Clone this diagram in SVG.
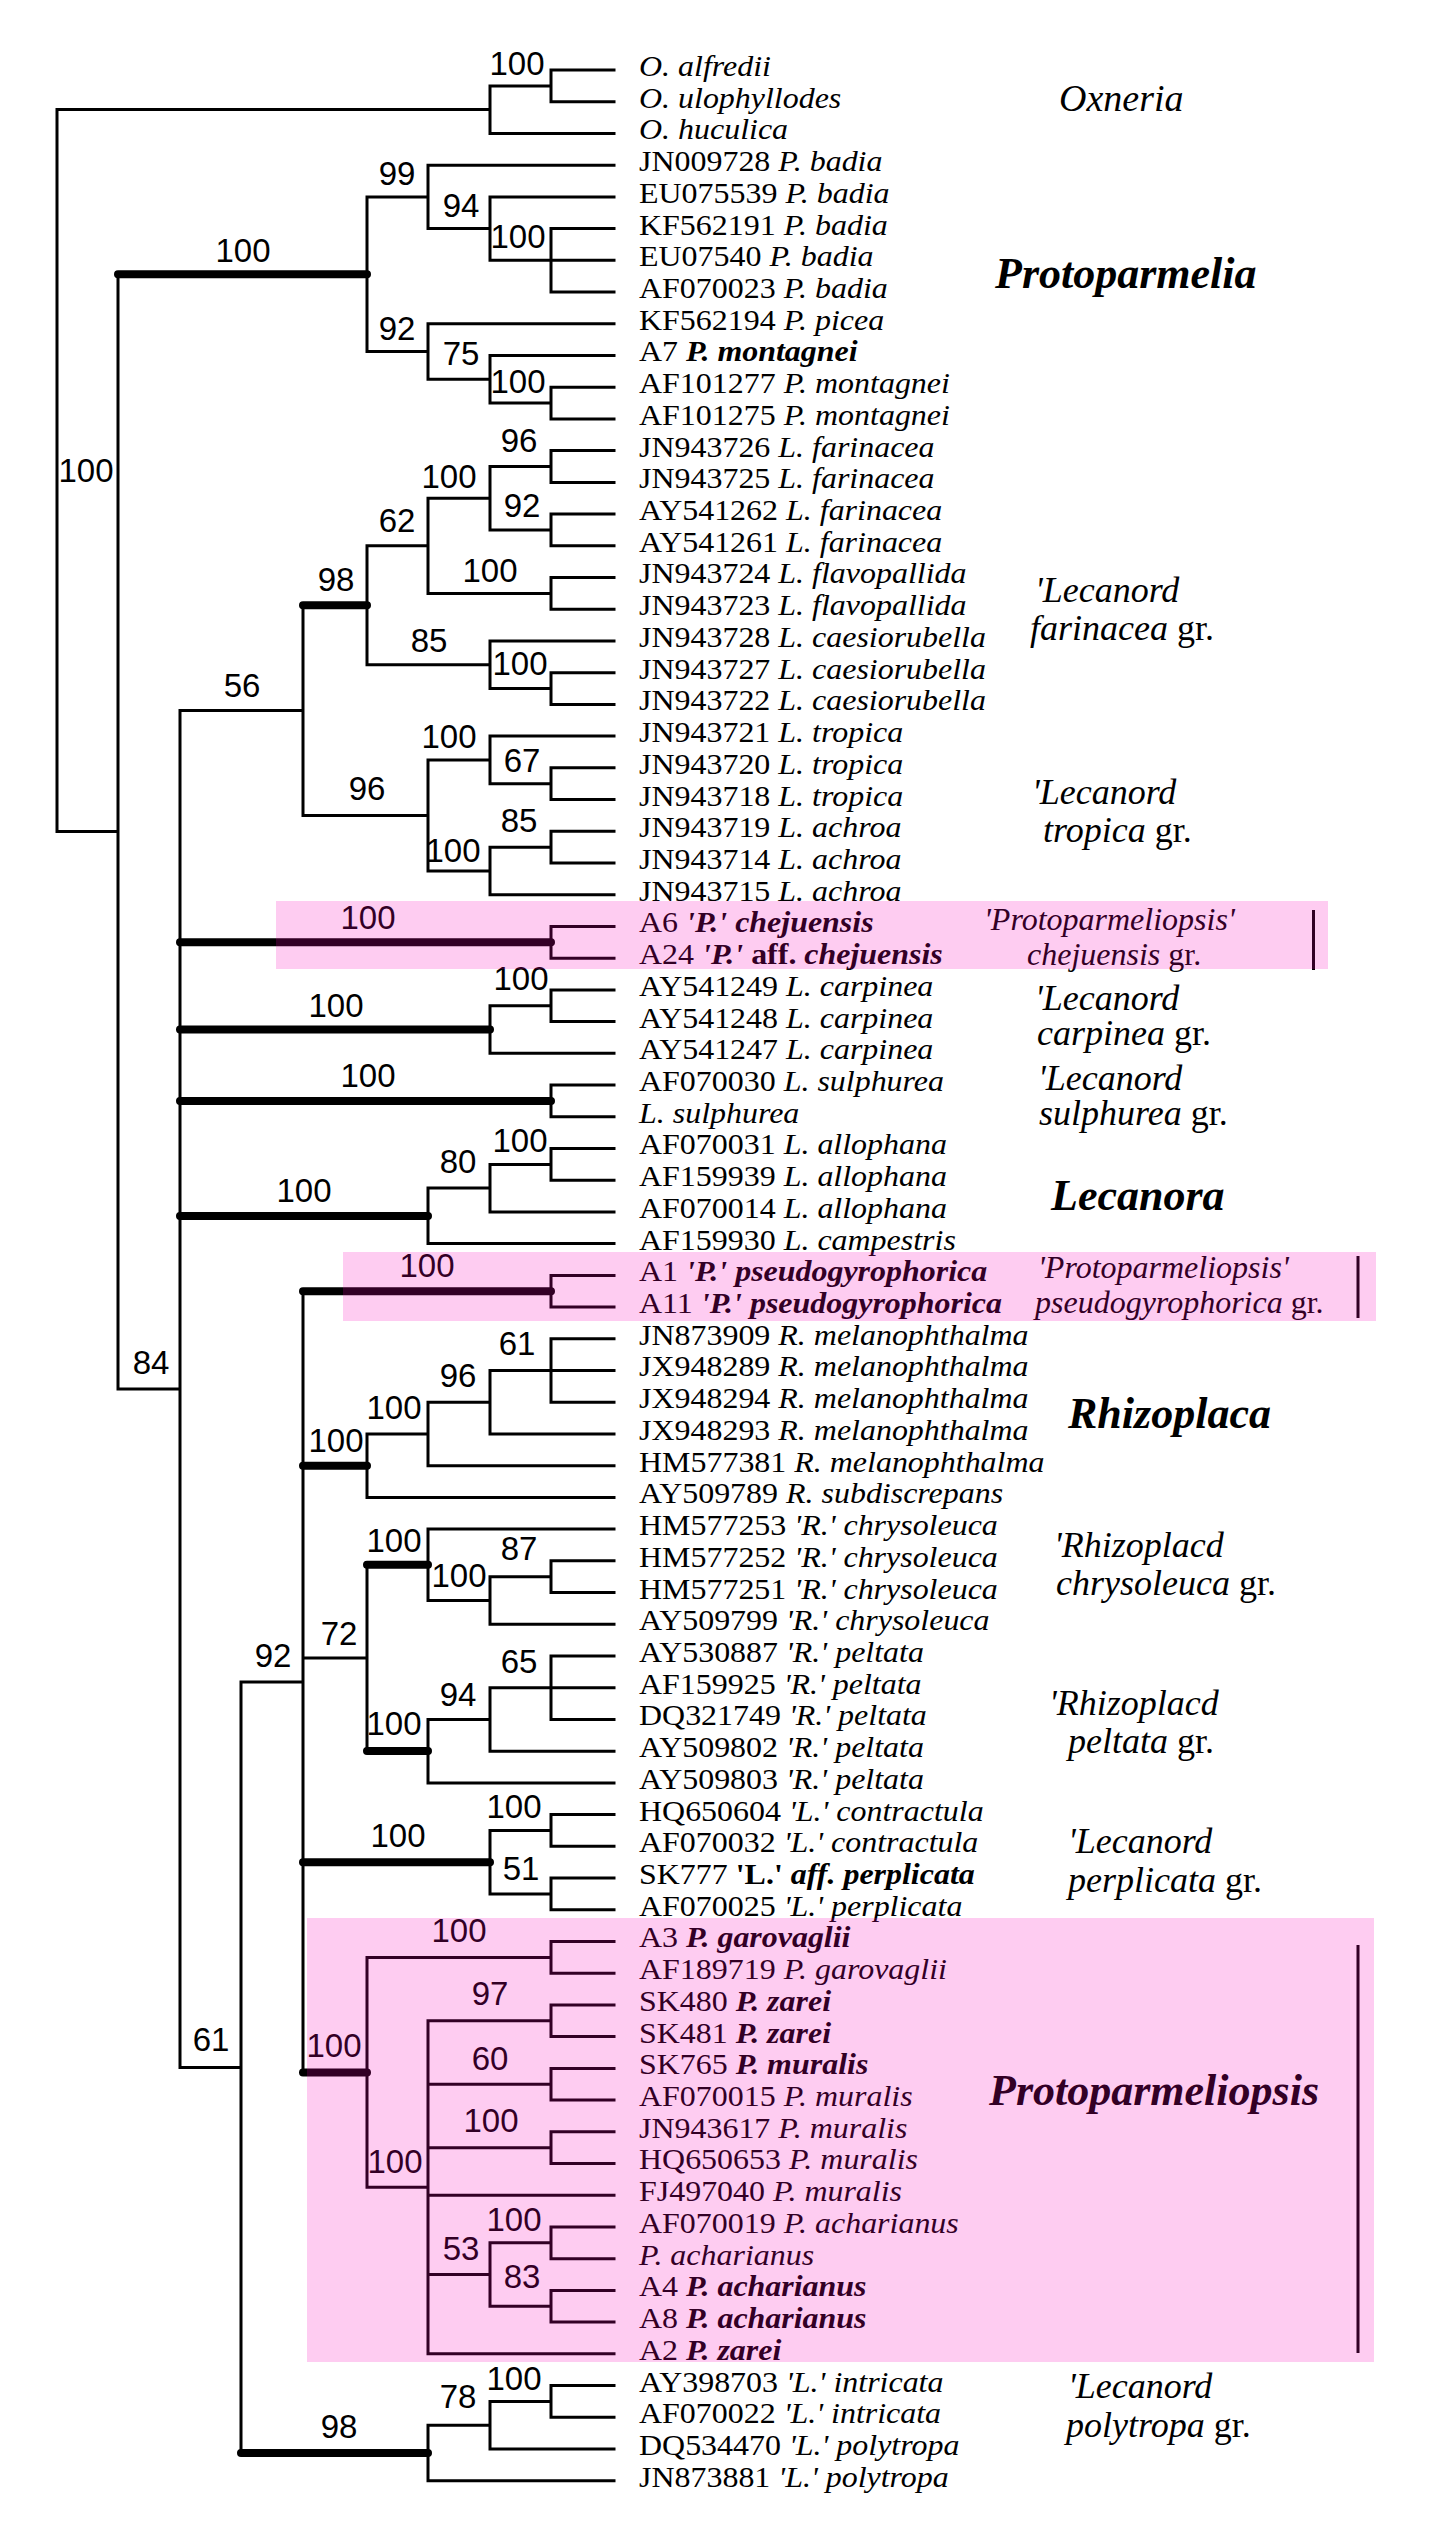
<svg xmlns="http://www.w3.org/2000/svg" width="1447" height="2538" viewBox="0 0 1447 2538">
<style>
.thin{fill:none;stroke:#000;stroke-width:3;stroke-linecap:square}
.thick{fill:none;stroke:#000;stroke-width:8;stroke-linecap:round}
.sup{font-family:"Liberation Sans",Arial,sans-serif;font-size:33px;fill:#000;text-anchor:middle}
.lf{font-family:"Liberation Serif","Times New Roman",serif;font-size:30px;fill:#000}
.i{font-style:italic}
.b{font-weight:bold}
.bi{font-weight:bold;font-style:italic}
.grp{font-family:"Liberation Serif","Times New Roman",serif;font-size:36px;fill:#000}
.grs{font-family:"Liberation Serif","Times New Roman",serif;font-size:32px;fill:#000}
.gen{font-family:"Liberation Serif","Times New Roman",serif;font-size:44px;font-weight:bold;font-style:italic;fill:#000}
.bar{stroke:#000;stroke-width:3}
.hl{fill:#FA00B9;fill-opacity:0.2}
</style>
<rect width="1447" height="2538" fill="#fff"/>
<g id="connectors">
<path class="thin" d="M57 109.6V831.6M57 109.6H490M57 831.6H118
M490 85.9V133.4M490 85.9H551M490 133.4H614M551 70V101.7M551 70H614M551 101.7H614
M118 274.2V1389M118 1389H180
M367 196.9V351.6M367 196.9H428M367 351.6H428
M428 165.2V228.6M428 165.2H614M428 228.6H490
M490 196.9V260.3M490 196.9H614M490 260.3H551
M551 228.6V292M551 228.6H614M551 260.3H614M551 292H614
M428 323.8V379.3M428 323.8H614M428 379.3H490
M490 355.5V403.1M490 355.5H614M490 403.1H551
M551 387.2V418.9M551 387.2H614M551 418.9H614
M180 710.4V2067.5M180 710.4H303M180 2067.5H241
M303 605.3V815.5M303 815.5H428
M367 545.8V664.8M367 545.8H428M367 664.8H490
M428 498.2V593.4M428 498.2H490M428 593.4H551
M490 466.5V530M490 466.5H551M490 530H551
M551 450.6V482.4M551 450.6H614M551 482.4H614
M551 514.1V545.8M551 514.1H614M551 545.8H614
M551 577.5V609.2M551 577.5H614M551 609.2H614
M490 641V688.6M490 641H614M490 688.6H551
M551 672.7V704.4M551 672.7H614M551 704.4H614
M428 759.9V871M428 759.9H490M428 871H490
M490 736.1V783.7M490 736.1H614M490 783.7H551
M551 767.8V799.6M551 767.8H614M551 799.6H614
M490 847.2V894.7M490 847.2H551M490 894.7H614
M551 831.3V863M551 831.3H614M551 863H614
M551 926.4V958.2M551 926.4H614M551 958.2H614
M490 1005.8V1053.3M490 1005.8H551M490 1053.3H614
M551 989.9V1021.6M551 989.9H614M551 1021.6H614
M551 1085V1116.8M551 1085H614M551 1116.8H614
M428 1188.1V1243.6M428 1188.1H490M428 1243.6H614
M490 1164.4V1211.9M490 1164.4H551M490 1211.9H614
M551 1148.5V1180.2M551 1148.5H614M551 1180.2H614
M241 1681.9V2453M241 1681.9H303
M303 1291.3V2072.4M303 1657.9H367
M551 1275.4V1307.1M551 1275.4H614M551 1307.1H614
M367 1434V1497.4M367 1434H428M367 1497.4H614
M428 1402.3V1465.7M428 1402.3H490M428 1465.7H614
M490 1370.5V1434M490 1370.5H551M490 1434H614
M551 1338.8V1402.2M551 1338.8H614M551 1370.5H614M551 1402.2H614
M367 1564.8V1751
M428 1529.1V1600.5M428 1529.1H614M428 1600.5H490
M490 1576.7V1624.3M490 1576.7H551M490 1624.3H614
M551 1560.8V1592.6M551 1560.8H614M551 1592.6H614
M428 1719.4V1782.9M428 1719.4H490M428 1782.9H614
M490 1687.7V1751.2M490 1687.7H551M490 1751.2H614
M551 1656V1719.4M551 1656H614M551 1687.7H614M551 1719.4H614
M490 1830.5V1893.9M490 1830.5H551M490 1893.9H551
M551 1814.6V1846.3M551 1814.6H614M551 1846.3H614
M551 1878V1909.8M551 1878H614M551 1909.8H614
M367 1957.4V2187.3M367 1957.4H551M367 2187.3H428
M551 1941.5V1973.2M551 1941.5H614M551 1973.2H614
M428 2020.8V2353.8M428 2020.8H551M428 2084.3H551M428 2147.7H551M428 2195.2H614M428 2274.5H490M428 2353.8H614
M551 2004.9V2036.6M551 2004.9H614M551 2036.6H614
M551 2068.4V2100.1M551 2068.4H614M551 2100.1H614
M551 2131.8V2163.5M551 2131.8H614M551 2163.5H614
M490 2242.8V2306.3M490 2242.8H551M490 2306.3H551
M551 2227V2258.7M551 2227H614M551 2258.7H614
M551 2290.4V2322.1M551 2290.4H614M551 2322.1H614
M428 2425.2V2480.7M428 2425.2H490M428 2480.7H614
M490 2401.5V2449M490 2401.5H551M490 2449H614
M551 2385.6V2417.3M551 2385.6H614M551 2417.3H614"/>
<path class="thick" d="M118 274.2H367M303 605.3H367M180 942.3H551M180 1029.5H490M180 1100.9H551M180 1215.9H428M303 1291.3H551M303 1465.7H367M367 1564.8H428M367 1751H428M303 1862.2H490M303 2072.4H367M241 2453H428"/>
</g>
<g id="support">
<text class="sup" x="517" y="75">100</text>
<text class="sup" x="243" y="262">100</text>
<text class="sup" x="397" y="185">99</text>
<text class="sup" x="461" y="217">94</text>
<text class="sup" x="518" y="248">100</text>
<text class="sup" x="397" y="340">92</text>
<text class="sup" x="461" y="365">75</text>
<text class="sup" x="518" y="393">100</text>
<text class="sup" x="86" y="482">100</text>
<text class="sup" x="519" y="452">96</text>
<text class="sup" x="449" y="488">100</text>
<text class="sup" x="522" y="517">92</text>
<text class="sup" x="397" y="532">62</text>
<text class="sup" x="490" y="582">100</text>
<text class="sup" x="336" y="591">98</text>
<text class="sup" x="429" y="652">85</text>
<text class="sup" x="520" y="675">100</text>
<text class="sup" x="242" y="697">56</text>
<text class="sup" x="449" y="748">100</text>
<text class="sup" x="522" y="772">67</text>
<text class="sup" x="367" y="800">96</text>
<text class="sup" x="519" y="832">85</text>
<text class="sup" x="453" y="862">100</text>
<text class="sup" x="368" y="929">100</text>
<text class="sup" x="521" y="990">100</text>
<text class="sup" x="336" y="1017">100</text>
<text class="sup" x="368" y="1087">100</text>
<text class="sup" x="520" y="1152">100</text>
<text class="sup" x="458" y="1173">80</text>
<text class="sup" x="304" y="1202">100</text>
<text class="sup" x="427" y="1277">100</text>
<text class="sup" x="517" y="1355">61</text>
<text class="sup" x="151" y="1374">84</text>
<text class="sup" x="458" y="1387">96</text>
<text class="sup" x="394" y="1419">100</text>
<text class="sup" x="336" y="1452">100</text>
<text class="sup" x="394" y="1552">100</text>
<text class="sup" x="519" y="1560">87</text>
<text class="sup" x="459" y="1587">100</text>
<text class="sup" x="339" y="1645">72</text>
<text class="sup" x="273" y="1667">92</text>
<text class="sup" x="519" y="1673">65</text>
<text class="sup" x="458" y="1706">94</text>
<text class="sup" x="394" y="1735">100</text>
<text class="sup" x="514" y="1818">100</text>
<text class="sup" x="398" y="1847">100</text>
<text class="sup" x="521" y="1880">51</text>
<text class="sup" x="459" y="1942">100</text>
<text class="sup" x="490" y="2005">97</text>
<text class="sup" x="211" y="2051">61</text>
<text class="sup" x="334" y="2057">100</text>
<text class="sup" x="490" y="2070">60</text>
<text class="sup" x="491" y="2132">100</text>
<text class="sup" x="395" y="2173">100</text>
<text class="sup" x="514" y="2231">100</text>
<text class="sup" x="461" y="2260">53</text>
<text class="sup" x="522" y="2288">83</text>
<text class="sup" x="514" y="2390">100</text>
<text class="sup" x="458" y="2408">78</text>
<text class="sup" x="339" y="2438">98</text>
</g>
<g id="leaves" transform="translate(639 0) scale(1.065 1)" xml:space="preserve">
<g id="leaf1"><text class="lf" y="76"><tspan class="i">O. alfredii</tspan></text></g>
<g id="leaf2"><text class="lf" y="107.7"><tspan class="i">O. ulophyllodes</tspan></text></g>
<g id="leaf3"><text class="lf" y="139.4"><tspan class="i">O. huculica</tspan></text></g>
<g id="leaf4"><text class="lf" y="171.2">JN009728 <tspan class="i">P. badia</tspan></text></g>
<g id="leaf5"><text class="lf" y="202.9">EU075539 <tspan class="i">P. badia</tspan></text></g>
<g id="leaf6"><text class="lf" y="234.6">KF562191 <tspan class="i">P. badia</tspan></text></g>
<g id="leaf7"><text class="lf" y="266.3">EU07540 <tspan class="i">P. badia</tspan></text></g>
<g id="leaf8"><text class="lf" y="298">AF070023 <tspan class="i">P. badia</tspan></text></g>
<g id="leaf9"><text class="lf" y="329.8">KF562194 <tspan class="i">P.  picea</tspan></text></g>
<g id="leaf10"><text class="lf" y="361.5">A7 <tspan class="bi">P. montagnei</tspan></text></g>
<g id="leaf11"><text class="lf" y="393.2">AF101277 <tspan class="i">P. montagnei</tspan></text></g>
<g id="leaf12"><text class="lf" y="424.9">AF101275 <tspan class="i">P. montagnei</tspan></text></g>
<g id="leaf13"><text class="lf" y="456.6">JN943726 <tspan class="i">L. farinacea</tspan></text></g>
<g id="leaf14"><text class="lf" y="488.4">JN943725 <tspan class="i">L. farinacea</tspan></text></g>
<g id="leaf15"><text class="lf" y="520.1">AY541262 <tspan class="i">L. farinacea</tspan></text></g>
<g id="leaf16"><text class="lf" y="551.8">AY541261 <tspan class="i">L. farinacea</tspan></text></g>
<g id="leaf17"><text class="lf" y="583.5">JN943724 <tspan class="i">L. flavopallida</tspan></text></g>
<g id="leaf18"><text class="lf" y="615.2">JN943723 <tspan class="i">L. flavopallida</tspan></text></g>
<g id="leaf19"><text class="lf" y="647">JN943728 <tspan class="i">L. caesiorubella</tspan></text></g>
<g id="leaf20"><text class="lf" y="678.7">JN943727 <tspan class="i">L. caesiorubella</tspan></text></g>
<g id="leaf21"><text class="lf" y="710.4">JN943722 <tspan class="i">L. caesiorubella</tspan></text></g>
<g id="leaf22"><text class="lf" y="742.1">JN943721 <tspan class="i">L. tropica</tspan></text></g>
<g id="leaf23"><text class="lf" y="773.8">JN943720 <tspan class="i">L. tropica</tspan></text></g>
<g id="leaf24"><text class="lf" y="805.6">JN943718 <tspan class="i">L. tropica</tspan></text></g>
<g id="leaf25"><text class="lf" y="837.3">JN943719 <tspan class="i">L. achroa</tspan></text></g>
<g id="leaf26"><text class="lf" y="869">JN943714 <tspan class="i">L. achroa</tspan></text></g>
<g id="leaf27"><text class="lf" y="900.7">JN943715 <tspan class="i">L. achroa</tspan></text></g>
<g id="leaf28"><text class="lf" y="932.4">A6 <tspan class="bi">'P.' chejuensis</tspan></text></g>
<g id="leaf29"><text class="lf" y="964.2">A24 <tspan class="bi">'P.'</tspan> <tspan class="b">aff.</tspan> <tspan class="bi">chejuensis</tspan></text></g>
<g id="leaf30"><text class="lf" y="995.9">AY541249 <tspan class="i">L. carpinea</tspan></text></g>
<g id="leaf31"><text class="lf" y="1027.6">AY541248 <tspan class="i">L. carpinea</tspan></text></g>
<g id="leaf32"><text class="lf" y="1059.3">AY541247 <tspan class="i">L. carpinea</tspan></text></g>
<g id="leaf33"><text class="lf" y="1091">AF070030 <tspan class="i">L. sulphurea</tspan></text></g>
<g id="leaf34"><text class="lf" y="1122.8"><tspan class="i">L. sulphurea</tspan></text></g>
<g id="leaf35"><text class="lf" y="1154.5">AF070031 <tspan class="i">L. allophana</tspan></text></g>
<g id="leaf36"><text class="lf" y="1186.2">AF159939 <tspan class="i">L. allophana</tspan></text></g>
<g id="leaf37"><text class="lf" y="1217.9">AF070014 <tspan class="i">L. allophana</tspan></text></g>
<g id="leaf38"><text class="lf" y="1249.6">AF159930 <tspan class="i">L. campestris</tspan></text></g>
<g id="leaf39"><text class="lf" y="1281.4">A1 <tspan class="bi">'P.' pseudogyrophorica</tspan></text></g>
<g id="leaf40"><text class="lf" y="1313.1">A11 <tspan class="bi">'P.' pseudogyrophorica</tspan></text></g>
<g id="leaf41"><text class="lf" y="1344.8">JN873909 <tspan class="i">R. melanophthalma</tspan></text></g>
<g id="leaf42"><text class="lf" y="1376.5">JX948289 <tspan class="i">R. melanophthalma</tspan></text></g>
<g id="leaf43"><text class="lf" y="1408.2">JX948294 <tspan class="i">R. melanophthalma</tspan></text></g>
<g id="leaf44"><text class="lf" y="1440">JX948293 <tspan class="i">R. melanophthalma</tspan></text></g>
<g id="leaf45"><text class="lf" y="1471.7">HM577381 <tspan class="i">R. melanophthalma</tspan></text></g>
<g id="leaf46"><text class="lf" y="1503.4">AY509789 <tspan class="i">R. subdiscrepans</tspan></text></g>
<g id="leaf47"><text class="lf" y="1535.1">HM577253  <tspan class="i">'R.' chrysoleuca</tspan></text></g>
<g id="leaf48"><text class="lf" y="1566.8">HM577252  <tspan class="i">'R.' chrysoleuca</tspan></text></g>
<g id="leaf49"><text class="lf" y="1598.6">HM577251  <tspan class="i">'R.' chrysoleuca</tspan></text></g>
<g id="leaf50"><text class="lf" y="1630.3">AY509799  <tspan class="i">'R.' chrysoleuca</tspan></text></g>
<g id="leaf51"><text class="lf" y="1662">AY530887   <tspan class="i">'R.' peltata</tspan></text></g>
<g id="leaf52"><text class="lf" y="1693.7">AF159925  <tspan class="i">'R.' peltata</tspan></text></g>
<g id="leaf53"><text class="lf" y="1725.4">DQ321749  <tspan class="i">'R.' peltata</tspan></text></g>
<g id="leaf54"><text class="lf" y="1757.2">AY509802  <tspan class="i">'R.' peltata</tspan></text></g>
<g id="leaf55"><text class="lf" y="1788.9">AY509803  <tspan class="i">'R.' peltata</tspan></text></g>
<g id="leaf56"><text class="lf" y="1820.6">HQ650604 <tspan class="i">'L.' contractula</tspan></text></g>
<g id="leaf57"><text class="lf" y="1852.3">AF070032  <tspan class="i">'L.' contractula</tspan></text></g>
<g id="leaf58"><text class="lf" y="1884">SK777 <tspan class="b">'L.'</tspan>  <tspan class="bi">aff. perplicata</tspan></text></g>
<g id="leaf59"><text class="lf" y="1915.8">AF070025 <tspan class="i">'L.'  perplicata</tspan></text></g>
<g id="leaf60"><text class="lf" y="1947.5">A3 <tspan class="bi">P. garovaglii</tspan></text></g>
<g id="leaf61"><text class="lf" y="1979.2">AF189719 <tspan class="i">P. garovaglii</tspan></text></g>
<g id="leaf62"><text class="lf" y="2010.9">SK480 <tspan class="bi">P. zarei</tspan></text></g>
<g id="leaf63"><text class="lf" y="2042.6">SK481 <tspan class="bi">P. zarei</tspan></text></g>
<g id="leaf64"><text class="lf" y="2074.4">SK765 <tspan class="bi">P. muralis</tspan></text></g>
<g id="leaf65"><text class="lf" y="2106.1">AF070015 <tspan class="i">P. muralis</tspan></text></g>
<g id="leaf66"><text class="lf" y="2137.8">JN943617 <tspan class="i">P. muralis</tspan></text></g>
<g id="leaf67"><text class="lf" y="2169.5">HQ650653 <tspan class="i">P. muralis</tspan></text></g>
<g id="leaf68"><text class="lf" y="2201.2">FJ497040 <tspan class="i">P. muralis</tspan></text></g>
<g id="leaf69"><text class="lf" y="2233">AF070019 <tspan class="i">P. acharianus</tspan></text></g>
<g id="leaf70"><text class="lf" y="2264.7"><tspan class="i">P. acharianus</tspan></text></g>
<g id="leaf71"><text class="lf" y="2296.4">A4 <tspan class="bi">P. acharianus</tspan></text></g>
<g id="leaf72"><text class="lf" y="2328.1">A8 <tspan class="bi">P. acharianus</tspan></text></g>
<g id="leaf73"><text class="lf" y="2359.8">A2 <tspan class="bi">P. zarei</tspan></text></g>
<g id="leaf74"><text class="lf" y="2391.6">AY398703  <tspan class="i">'L.' intricata</tspan></text></g>
<g id="leaf75"><text class="lf" y="2423.3">AF070022  <tspan class="i">'L.' intricata</tspan></text></g>
<g id="leaf76"><text class="lf" y="2455">DQ534470  <tspan class="i">'L.' polytropa</tspan></text></g>
<g id="leaf77"><text class="lf" y="2486.7">JN873881 <tspan class="i">'L.' polytropa</tspan></text></g>
</g>
<g id="groups">
<g id="g-oxneria"><text class="grp i" x="1059" y="111" style="font-size:38px">Oxneria</text></g>
<g id="g-protoparmelia"><text class="gen" x="995" y="288">Protoparmelia</text></g>
<g id="g-farinacea"><text class="grp i" x="1035" y="602">'Lecanord</text><text class="grp" x="1030" y="640"><tspan class="i">farinacea</tspan> gr.</text></g>
<g id="g-tropica"><text class="grp i" x="1032" y="804">'Lecanord</text><text class="grp" x="1043" y="842"><tspan class="i">tropica</tspan> gr.</text></g>
<g id="g-chejuensis"><text class="grs i" x="984" y="930">'Protoparmeliopsis'</text><text class="grs" x="1027" y="965"><tspan class="i">chejuensis</tspan> gr.</text><line class="bar" x1="1313.5" y1="910" x2="1313.5" y2="970"/></g>
<g id="g-carpinea"><text class="grp i" x="1035" y="1010">'Lecanord</text><text class="grp" x="1037" y="1045"><tspan class="i">carpinea</tspan> gr.</text></g>
<g id="g-sulphurea"><text class="grp i" x="1038" y="1090">'Lecanord</text><text class="grp" x="1039" y="1125"><tspan class="i">sulphurea</tspan> gr.</text></g>
<g id="g-lecanora"><text class="gen" x="1051" y="1210">Lecanora</text></g>
<g id="g-pseudogyrophorica"><text class="grs i" x="1038" y="1278">'Protoparmeliopsis'</text><text class="grs" x="1035" y="1313"><tspan class="i">pseudogyrophorica</tspan> gr.</text><line class="bar" x1="1358" y1="1256" x2="1358" y2="1318"/></g>
<g id="g-rhizoplaca"><text class="gen" x="1068" y="1428">Rhizoplaca</text></g>
<g id="g-chrysoleuca"><text class="grp i" x="1054" y="1557">'Rhizoplacd</text><text class="grp" x="1056" y="1595"><tspan class="i">chrysoleuca</tspan> gr.</text></g>
<g id="g-peltata"><text class="grp i" x="1049" y="1715">'Rhizoplacd</text><text class="grp" x="1068" y="1753"><tspan class="i">peltata</tspan> gr.</text></g>
<g id="g-perplicata"><text class="grp i" x="1068" y="1853">'Lecanord</text><text class="grp" x="1068" y="1892"><tspan class="i">perplicata</tspan> gr.</text></g>
<g id="g-protoparmeliopsis"><text class="gen" x="989" y="2105">Protoparmeliopsis</text><line class="bar" x1="1358" y1="1945" x2="1358" y2="2353"/></g>
<g id="g-polytropa"><text class="grp i" x="1068" y="2398">'Lecanord</text><text class="grp" x="1066" y="2437"><tspan class="i">polytropa</tspan> gr.</text></g>
</g>
<g id="highlights">
<rect class="hl" x="276" y="901" width="1052" height="68"/>
<rect class="hl" x="343" y="1252" width="1033" height="69"/>
<rect class="hl" x="307" y="1918" width="1067" height="444"/>
</g>
</svg>
